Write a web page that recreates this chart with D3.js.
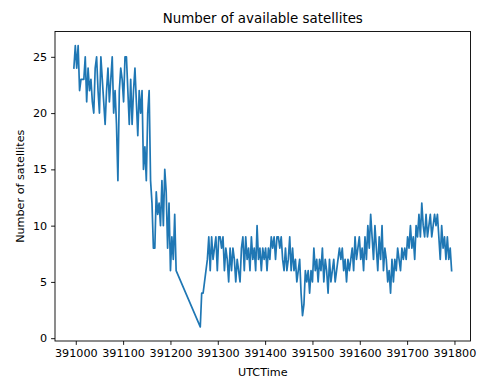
<!DOCTYPE html>
<html>
<head>
<meta charset="utf-8">
<script src="https://cdn.jsdelivr.net/npm/d3@7"></script>
<style>
  html, body { margin: 0; padding: 0; background: #fff; }
  svg { display: block; font-family: "DejaVu Sans", sans-serif; }
</style>
</head>
<body>
<svg id="chart" width="481" height="381"></svg>
<script>
// Satellite counts logged every 3 s, in two recorded stretches with a gap between them.
const sampleStep = 3;
const firstStart = 390996;
const firstCounts = [
  24, 26, 24, 26, 22, 23, 23, 23, 25, 21,
  24, 22, 23, 21, 20, 24, 25, 22, 20, 25,
  23, 21, 19, 22, 24, 21, 23, 25, 20, 22,
  19, 14, 22, 24, 23, 21, 25, 25, 22, 19,
  23, 19, 22, 24, 21, 18, 22, 20, 22, 15,
  17, 14, 20, 22, 14, 12, 8, 8, 13, 11,
  12, 10, 14, 10, 15, 13, 8, 12, 6, 9,
  7, 11, 6
];
const secondStart = 391263;
const secondCounts = [
  1, 4, 4, 5, 6, 7, 9, 6, 9, 7,
  8, 9, 6, 9, 9, 8, 9, 6, 8, 7,
  5, 8, 6, 8, 7, 5, 7, 6, 5, 8,
  9, 6, 9, 7, 8, 6, 9, 7, 8, 6,
  10, 7, 8, 6, 8, 7, 8, 6, 8, 7,
  9, 8, 9, 7, 9, 9, 8, 9, 7, 6,
  8, 6, 7, 9, 6, 8, 6, 7, 5, 6,
  7, 4, 2, 3, 6, 5, 6, 4, 6, 5,
  8, 6, 7, 5, 7, 6, 8, 5, 7, 6,
  4, 7, 5, 6, 7, 5, 6, 7, 8, 7,
  8, 6, 7, 5, 7, 6, 7, 8, 6, 9,
  7, 8, 9, 7, 8, 6, 9, 7, 10, 8,
  11, 9, 7, 10, 8, 6, 9, 7, 10, 6,
  8, 7, 5, 6, 4, 7, 5, 7, 6, 8,
  7, 6, 8, 7, 8, 7, 9, 8, 10, 8,
  9, 7, 10, 9, 11, 9, 12, 10, 9, 11,
  9, 10, 11, 9, 10, 11, 10, 11, 9, 7,
  10, 8, 9, 7, 9, 7, 8, 6
];
const xTicks = [391000, 391100, 391200, 391300, 391400, 391500, 391600, 391700, 391800];
const yTicks = [0, 5, 10, 15, 20, 25];

const points = [
  ...firstCounts.map((v, i) => ({ t: firstStart + i * sampleStep, n: v })),
  ...secondCounts.map((v, i) => ({ t: secondStart + i * sampleStep, n: v }))
];

const svg = d3.select("#chart");
const margin = { left: 55, right: 10.5, top: 31.5, bottom: 40 };
const W = 481, H = 381;
const plotW = W - margin.left - margin.right;
const plotH = H - margin.top - margin.bottom;

// Auto-scaled limits with a 5% margin on each side
const [tMin, tMax] = d3.extent(points, d => d.t);
const [nMin, nMax] = d3.extent(points, d => d.n);
const tPad = (tMax - tMin) * 0.05, nPad = (nMax - nMin) * 0.05;

const x = d3.scaleLinear().domain([tMin - tPad, tMax + tPad]).range([0, plotW]);
const y = d3.scaleLinear().domain([nMin - nPad, nMax + nPad]).range([plotH, 0]);

const g = svg.append("g").attr("transform", `translate(${margin.left},${margin.top})`);

const fontTick = 11.2;

const xAxis = g.append("g")
  .attr("transform", `translate(0,${plotH})`)
  .call(d3.axisBottom(x).tickValues(xTicks).tickFormat(d3.format("d")).tickSizeInner(3.9).tickSizeOuter(0).tickPadding(3.9));
const yAxis = g.append("g")
  .call(d3.axisLeft(y).tickValues(yTicks).tickFormat(d3.format("d")).tickSizeInner(3.9).tickSizeOuter(0).tickPadding(3.9));

[xAxis, yAxis].forEach(a => {
  a.select(".domain").remove();
  a.selectAll("line").attr("stroke", "#000").attr("stroke-width", 0.9);
  a.selectAll("text").attr("font-size", fontTick).attr("fill", "#000")
    .attr("font-family", "DejaVu Sans, sans-serif");
});

// Data line
const line = d3.line().x(d => x(d.t)).y(d => y(d.n));
g.append("path")
  .datum(points)
  .attr("d", line)
  .attr("fill", "none")
  .attr("stroke", "#1f77b4")
  .attr("stroke-width", 1.7)
  .attr("stroke-linejoin", "round")
  .attr("stroke-linecap", "square");

// Frame
g.append("rect")
  .attr("x", 0).attr("y", 0).attr("width", plotW).attr("height", plotH)
  .attr("fill", "none").attr("stroke", "#000").attr("stroke-width", 0.9);

// Title and axis labels
svg.append("text")
  .attr("x", margin.left + plotW / 2).attr("y", 23)
  .attr("text-anchor", "middle").attr("font-size", 13.4).attr("fill", "#000")
  .text("Number of available satellites");

svg.append("text")
  .attr("x", margin.left + plotW / 2).attr("y", 376)
  .attr("text-anchor", "middle").attr("font-size", fontTick).attr("fill", "#000")
  .text("UTCTime");

svg.append("text")
  .attr("transform", `translate(24,${margin.top + plotH / 2}) rotate(-90)`)
  .attr("text-anchor", "middle").attr("font-size", fontTick).attr("fill", "#000")
  .text("Number of satellites");
</script>
</body>
</html>
